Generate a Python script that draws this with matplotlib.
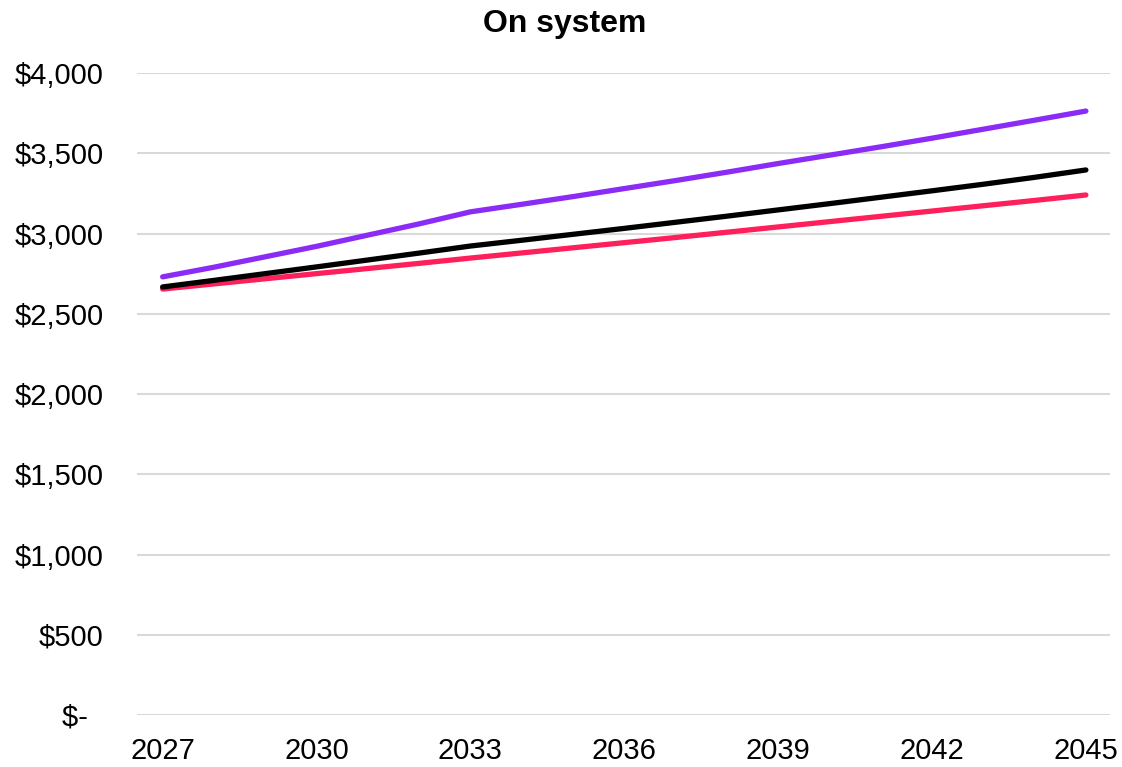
import matplotlib
matplotlib.use("Agg")
import matplotlib.pyplot as plt
from matplotlib.ticker import FuncFormatter

plt.rcParams['font.family'] = ['Liberation Sans', 'DejaVu Sans']

years = list(range(2027, 2046))

# three scenarios, $ per year
purple_vals = [2730, 2790, 2855, 2920, 2990, 3060, 3135, 3182, 3230, 3280, 3330, 3382,
               3436, 3488, 3540, 3594, 3650, 3706, 3763]
black_vals = [2667, 2708, 2750, 2792, 2835, 2878, 2922, 2958, 2995, 3032, 3070, 3108,
              3147, 3186, 3226, 3266, 3307, 3350, 3396]
red_vals = [2654, 2686, 2718, 2750, 2782, 2814, 2847, 2879, 2911, 2943, 2975, 3008,
            3041, 3074, 3107, 3140, 3173, 3206, 3240]

xticks = [2027, 2030, 2033, 2036, 2039, 2042, 2045]
yticks = [0, 500, 1000, 1500, 2000, 2500, 3000, 3500, 4000]


def dollars(v, pos):
    # accounting style: zero shown as a dash
    if v == 0:
        return '$-  '
    return '${:,.0f}'.format(v)


fig = plt.figure(figsize=(11.22, 7.67), dpi=100)
ax = fig.add_axes([0.1221, 0.0678, 0.8672, 0.837])

ax.plot(years, purple_vals, color='#8a2cf5', lw=3.8, solid_capstyle='round', zorder=3)
ax.plot(years, black_vals, color='black', lw=3.8, solid_capstyle='round', zorder=4)
ax.plot(years, red_vals, color='#ff1f5b', lw=3.8, solid_capstyle='round', zorder=3)

ax.set_xlim(2026.5, 2045.47)
ax.set_ylim(0, 4000)
ax.set_xticks(xticks)
ax.set_yticks(yticks)
ax.yaxis.set_major_formatter(FuncFormatter(dollars))

ax.grid(axis='y', color='#d9d9d9', lw=1.5)
ax.set_axisbelow(True)
for s in ax.spines.values():
    s.set_visible(False)
ax.tick_params(axis='both', length=0, labelsize=21)
ax.tick_params(axis='y', pad=24)
ax.tick_params(axis='x', pad=16)

fig.suptitle('On system', fontsize=23, fontweight='bold', x=0.503, y=0.988, va='top')

fig.savefig('out.png', dpi=100)
